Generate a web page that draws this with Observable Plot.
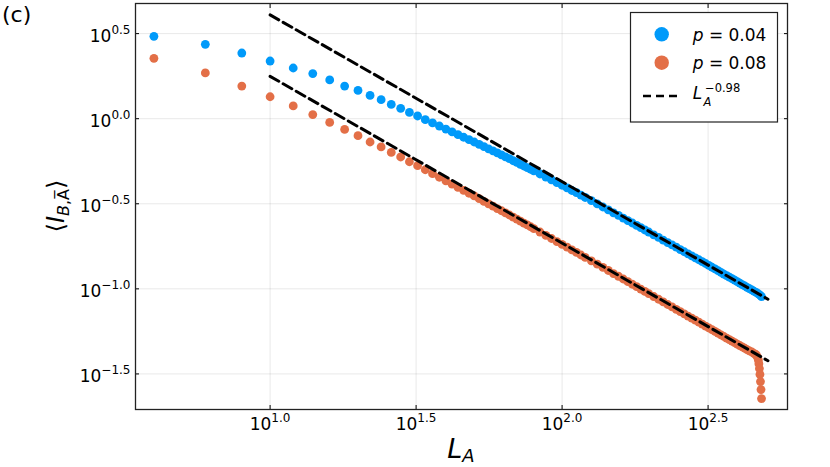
<!DOCTYPE html>
<html><head><meta charset="utf-8">
<script src="https://cdn.jsdelivr.net/npm/d3@7"></script>
<script src="https://cdn.jsdelivr.net/npm/@observablehq/plot@0.6"></script>
<style>
body{margin:0;background:#fff;}
#chart{width:830px;height:467px;}
</style></head><body><div id="chart"></div>
<script>
// ---- data (L_A values and log10 of <I_{B,Abar}>) ----
const blueLA = [4,6,8,10,12,14,16,18,20,22,24,26,28,30,32,34,36,38,40,
42,44,46,48,50,52,54,56,58,60,62,64,66,68,70,72,74,76,78,80,
84,88,92,96,100,104,108,112,116,120,
126,132,138,144,150,156,162,168,174,180,186,192,198,
206,214,222,230,238,246,254,262,270,278,286,294,302,310,318,326,334,342,350,358,366,374,382,390,398,406,414,422,430,438,446,454,462,470,478,482];
const blueLog10 = [0.484,0.437,0.386,0.339,0.298,0.265,0.228,0.192,0.166,0.137,0.112,0.084,0.061,0.037,0.016,-0.006,-0.025,-0.043,-0.061,
-0.078,-0.094,-0.109,-0.123,-0.137,-0.151,-0.164,-0.177,-0.189,-0.201,-0.213,-0.224,-0.235,-0.247,-0.257,-0.268,-0.278,-0.288,-0.297,-0.307,
-0.325,-0.343,-0.360,-0.376,-0.391,-0.407,-0.422,-0.435,-0.449,-0.463,
-0.482,-0.501,-0.519,-0.536,-0.553,-0.568,-0.584,-0.599,-0.613,-0.627,-0.640,-0.654,-0.666,
-0.683,-0.698,-0.714,-0.728,-0.742,-0.755,-0.769,-0.782,-0.794,-0.806,-0.818,-0.829,-0.840,-0.851,-0.862,-0.873,-0.883,-0.893,-0.903,-0.913,-0.922,-0.931,-0.940,-0.949,-0.958,-0.966,-0.975,-0.983,-0.991,-0.999,-1.006,-1.014,-1.021,-1.029,-1.039,-1.046];

const orangeLA = [4,6,8,10,12,14,16,18,20,22,24,26,28,30,32,34,36,38,40,
42,44,46,48,50,52,54,56,58,60,62,64,66,68,70,72,74,76,78,80,
84,88,92,96,100,104,108,112,116,120,
126,132,138,144,150,156,162,168,174,180,186,192,198,
206,214,222,230,238,246,254,262,270,278,286,294,302,310,318,326,334,342,350,358,366,374,382,390,398,406,414,422,430,438,446,454,
460,464,467,470,472,474,476,478,480,482];
const orangeLog10 = [0.355,0.269,0.192,0.129,0.075,0.024,-0.022,-0.063,-0.100,-0.137,-0.166,-0.198,-0.225,-0.253,-0.276,-0.300,-0.323,-0.344,-0.365,
-0.385,-0.404,-0.421,-0.438,-0.454,-0.470,-0.486,-0.500,-0.514,-0.528,-0.541,-0.554,-0.566,-0.579,-0.590,-0.602,-0.614,-0.624,-0.635,-0.646,
-0.666,-0.686,-0.704,-0.722,-0.739,-0.755,-0.771,-0.786,-0.801,-0.815,
-0.835,-0.855,-0.874,-0.892,-0.910,-0.926,-0.942,-0.958,-0.973,-0.987,-1.001,-1.015,-1.028,
-1.045,-1.061,-1.077,-1.092,-1.106,-1.120,-1.134,-1.147,-1.160,-1.172,-1.184,-1.196,-1.207,-1.219,-1.229,-1.240,-1.250,-1.260,-1.270,-1.280,-1.289,-1.298,-1.307,-1.316,-1.325,-1.333,-1.341,-1.349,-1.357,-1.364,-1.371,-1.379,
-1.385,-1.392,-1.402,-1.418,-1.440,-1.468,-1.503,-1.545,-1.592,-1.645];

// dashed guide lines ~ L_A^-0.98 (end points)
const fitLA = [10, 507];
const fitTopI = [4.074, 0.0869];
const fitBottomI = [1.774, 0.0378];

// tick exponents
const xTickExp = [1.0, 1.5, 2.0, 2.5];
const yTickExp = [0.5, 0.0, -0.5, -1.0, -1.5];

const seriesLabels = ["p = 0.04", "p = 0.08"];
const colors = ["#009AFA", "#E36F47"];

// ---- build tables ----
const blue = blueLA.map((x, i) => ({LA: x, I: 10 ** blueLog10[i]}));
const orange = orangeLA.map((x, i) => ({LA: x, I: 10 ** orangeLog10[i]}));
const fitTop = fitLA.map((x, i) => ({LA: x, I: fitTopI[i]}));
const fitBottom = fitLA.map((x, i) => ({LA: x, I: fitBottomI[i]}));
const xTicks = xTickExp.map(e => 10 ** e);
const yTicks = yTickExp.map(e => 10 ** e);
const fmt = d => (Math.round(Math.log10(d) * 10) / 10).toFixed(1);

const chart = Plot.plot({
  width: 830, height: 467,
  marginLeft: 135, marginRight: 43, marginTop: 3, marginBottom: 58,
  style: {fontFamily: "DejaVu Sans", fontSize: "16.5px", background: "#fff", color: "#000"},
  x: {type: "log", domain: [10 ** 0.539, 10 ** 2.772]},
  y: {type: "log", domain: [10 ** -1.709, 10 ** 0.677]},
  marks: [
    Plot.gridX(xTicks, {stroke: "#000", strokeOpacity: 0.09}),
    Plot.gridY(yTicks, {stroke: "#000", strokeOpacity: 0.09}),
    Plot.dot(blue, {x: "LA", y: "I", r: 4.4, fill: colors[0], stroke: null}),
    Plot.dot(orange, {x: "LA", y: "I", r: 4.4, fill: colors[1], stroke: null}),
    Plot.line(fitTop, {x: "LA", y: "I", stroke: "#000", strokeWidth: 3, strokeDasharray: "10,5"}),
    Plot.line(fitBottom, {x: "LA", y: "I", stroke: "#000", strokeWidth: 3, strokeDasharray: "10,5"}),
    Plot.axisX(xTicks, {anchor: "bottom", tickSize: 0, tickPadding: 8, tickFormat: fmt, fontSize: 17, label: null}),
    Plot.axisY(yTicks, {anchor: "left", tickSize: 0, tickPadding: 5, tickFormat: fmt, fontSize: 17, dy: 2.5, label: null}),
    Plot.axisX(xTicks, {anchor: "bottom", tickSize: -4, tickFormat: () => "", label: null}),
    Plot.axisX(xTicks, {anchor: "top", tickSize: -4, tickFormat: () => "", label: null}),
    Plot.axisY(yTicks, {anchor: "left", tickSize: -4, tickFormat: () => "", label: null}),
    Plot.axisY(yTicks, {anchor: "right", tickSize: -4, tickFormat: () => "", label: null}),
    Plot.frame({stroke: "#222", strokeWidth: 1.3})
  ]
});
document.getElementById("chart").appendChild(chart);

const svg = d3.select(chart);
// superscript tick labels 10^e
svg.selectAll('g[aria-label="x-axis tick label"] text, g[aria-label="y-axis tick label"] text').each(function () {
  const e = this.textContent;
  if (!e) return;
  const t = d3.select(this);
  t.text(null);
  t.append("tspan").text("10");
  t.append("tspan").attr("dy", -7.5).attr("font-size", "12px").text(e.replace("-", "\u2212"));
});

// panel tag
svg.append("text").attr("x", 2).attr("y", 22).attr("text-anchor", "start").attr("font-size", 22).attr("fill", "#000").text("(c)");

// x-axis title
const xt = svg.append("text").attr("x", 461).attr("y", 458).attr("text-anchor", "middle").attr("font-size", 27).attr("fill", "#000");
xt.append("tspan").attr("font-style", "italic").text("L");
xt.append("tspan").attr("font-style", "italic").attr("font-size", 18).attr("dy", 4).text("A");

// y-axis title
const yt = svg.append("text").attr("transform", "translate(64,206) rotate(-90)").attr("text-anchor", "middle").attr("font-size", 24).attr("fill", "#000");
yt.append("tspan").text("\u27E8");
yt.append("tspan").attr("font-style", "italic").text("I");
yt.append("tspan").attr("font-style", "italic").attr("font-size", 16).attr("dy", 5).text("B");
yt.append("tspan").attr("font-size", 16).text(",");
yt.append("tspan").attr("font-size", 16).text("A\u0305");
yt.append("tspan").attr("dy", -5).text("\u27E9");

// legend
const lg = svg.append("g").attr("text-anchor", "start");
lg.append("rect").attr("x", 630.5).attr("y", 12.5).attr("width", 147).attr("height", 109.5)
  .attr("fill", "#fff").attr("stroke", "#222").attr("stroke-width", 1.2);
[34.3, 62.7].forEach((cy, i) => {
  lg.append("circle").attr("cx", 661.7).attr("cy", cy).attr("r", 7.2).attr("fill", colors[i]);
  const tx = lg.append("text").attr("x", 692.7).attr("y", cy + 6.4).attr("text-anchor", "start").attr("font-size", 17).attr("fill", "#000");
  tx.append("tspan").attr("font-style", "italic").text(seriesLabels[i].slice(0, 1));
  tx.append("tspan").text(seriesLabels[i].slice(1));
});
lg.append("line").attr("x1", 643).attr("x2", 679).attr("y1", 96).attr("y2", 96)
  .attr("stroke", "#000").attr("stroke-width", 2.5).attr("stroke-dasharray", "8,5");
lg.append("text").attr("x", 692.7).attr("y", 99.3).attr("text-anchor", "start").attr("font-size", 17)
  .attr("font-style", "italic").attr("fill", "#000").text("L");
lg.append("text").attr("x", 703.5).attr("y", 106).attr("text-anchor", "start").attr("font-size", 11.5)
  .attr("font-style", "italic").attr("fill", "#000").text("A");
lg.append("text").attr("x", 705).attr("y", 91.5).attr("text-anchor", "start").attr("font-size", 11.5)
  .attr("fill", "#000").text("\u22120.98");
</script>
</body></html>
